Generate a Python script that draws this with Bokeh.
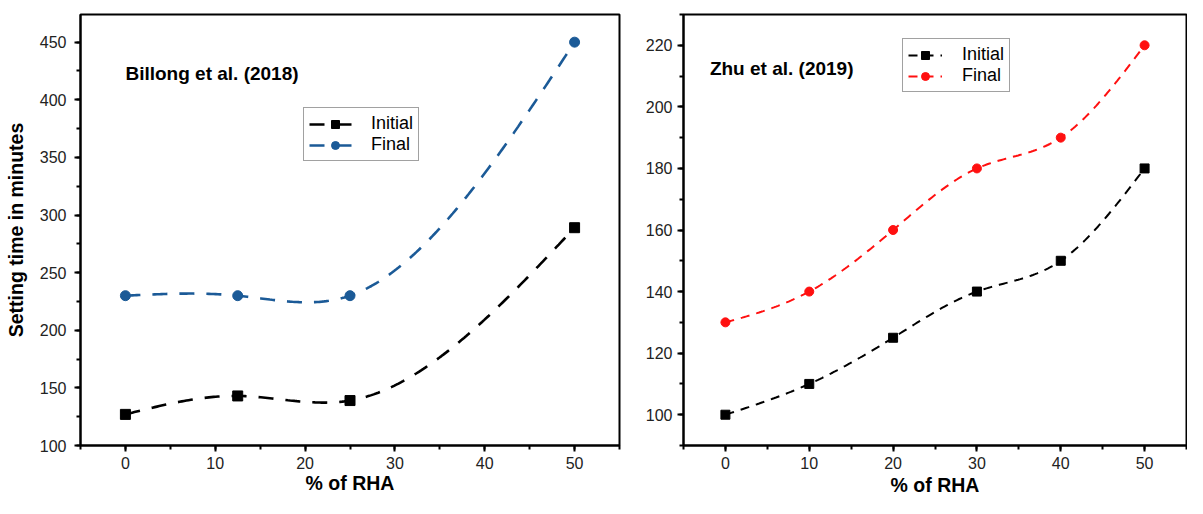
import numpy as np
from bokeh.plotting import figure
from bokeh.layouts import row
from bokeh.models import (Range1d, SingleIntervalTicker, Label, Legend, LegendItem)
from bokeh.embed import file_html
from bokeh.resources import INLINE

# ---- data: Billong et al. (2018)
rha_billong = [0, 12.5, 25, 50]
initial_billong = [127, 143, 139, 289]
final_billong = [230, 230, 230, 450]

# ---- data: Zhu et al. (2019)
rha_zhu = [0, 10, 20, 30, 40, 50]
initial_zhu = [100, 110, 125, 140, 150, 180]
final_zhu = [130, 140, 160, 180, 190, 220]

x_label = "% of RHA"
y_label = "Setting time in minutes"
FONT = "Liberation Sans"
BLUE = "#1b5a97"
RED = "#ff1010"


def spline(xs, ys, n=200):
    """Natural cubic spline through the data points (line connection)."""
    x = np.asarray(xs, float)
    y = np.asarray(ys, float)
    k = len(x)
    h = np.diff(x)
    A = np.zeros((k, k))
    b = np.zeros(k)
    A[0, 0] = A[-1, -1] = 1
    for i in range(1, k - 1):
        A[i, i - 1] = h[i - 1]
        A[i, i] = 2 * (h[i - 1] + h[i])
        A[i, i + 1] = h[i]
        b[i] = 6 * ((y[i + 1] - y[i]) / h[i] - (y[i] - y[i - 1]) / h[i - 1])
    M = np.linalg.solve(A, b)
    xx = np.linspace(x[0], x[-1], n)
    j = np.clip(np.searchsorted(x, xx) - 1, 0, k - 2)
    t0 = x[j + 1] - xx
    t1 = xx - x[j]
    hj = h[j]
    yy = (M[j] * t0 ** 3 / (6 * hj) + M[j + 1] * t1 ** 3 / (6 * hj)
          + (y[j] / hj - M[j] * hj / 6) * t0 + (y[j + 1] / hj - M[j + 1] * hj / 6) * t1)
    return xx, yy


def style(p, yint):
    p.outline_line_color = "black"
    p.outline_line_width = 2
    p.xgrid.visible = False
    p.ygrid.visible = False
    p.background_fill_color = "white"
    p.border_fill_color = "white"
    for ax, iv in ((p.xaxis[0], 10), (p.yaxis[0], yint)):
        ax.ticker = SingleIntervalTicker(interval=iv, num_minor_ticks=2)
        ax.axis_line_color = "black"
        ax.axis_line_width = 2
        ax.major_tick_line_width = 2
        ax.minor_tick_line_width = 2
        ax.major_tick_out = 6
        ax.major_tick_in = 0
        ax.minor_tick_out = 4
        ax.minor_tick_in = 0
        ax.major_label_text_font = FONT
        ax.major_label_text_font_size = "16px"
        ax.major_label_text_color = "#222222"
        ax.major_label_standoff = 5
        ax.axis_label_text_font = FONT
        ax.axis_label_text_font_size = "19.5px"
        ax.axis_label_text_font_style = "bold"
        ax.axis_label_text_color = "black"
    p.xaxis.axis_label_standoff = 0


def legend_for(p, items, loc, glyph_w, standoff):
    lg = Legend(items=items, location=loc, orientation="vertical",
                label_text_font=FONT, label_text_font_size="18px",
                label_text_color="black", glyph_width=glyph_w, glyph_height=20,
                label_standoff=standoff, padding=5, spacing=0, margin=0,
                border_line_color="#444444", border_line_width=1.5,
                background_fill_alpha=1)
    p.add_layout(lg)


# ---------------- left panel
p1 = figure(width=622, height=498, output_backend="svg", toolbar_location=None,
            x_range=Range1d(-5, 55), y_range=Range1d(100, 474),
            min_border_left=80, min_border_right=3, min_border_top=12, min_border_bottom=52)
style(p1, 50)
p1.xaxis.axis_label = x_label
p1.yaxis.axis_label = y_label
p1.yaxis.major_label_standoff = 8
p1.yaxis.axis_label_standoff = 10

sx, sy = spline(rha_billong, initial_billong)
l1 = p1.line(sx, sy, line_color="black", line_width=2.6, line_dash="15 12")
m1 = p1.scatter(rha_billong, initial_billong, marker="square", size=10,
                fill_color="black", line_color="black")
sx, sy = spline(rha_billong, final_billong)
l2 = p1.line(sx, sy, line_color=BLUE, line_width=2.6, line_dash="15 12")
m2 = p1.scatter(rha_billong, final_billong, marker="circle", size=10,
                fill_color=BLUE, line_color=BLUE)
p1.add_layout(Label(x=0, y=423, text="Billong et al. (2018)", text_font=FONT,
                    text_font_size="19px", text_font_style="bold",
                    text_baseline="middle", text_color="black"))
legend_for(p1, [LegendItem(label="Initial", renderers=[l1, m1]),
                LegendItem(label="Final", renderers=[l2, m2])],
           (223, 284), 52, 10)

# ---------------- right panel
p2 = figure(width=565, height=498, output_backend="svg", toolbar_location=None,
            x_range=Range1d(-5, 55), y_range=Range1d(90, 230),
            min_border_left=61, min_border_right=1, min_border_top=14, min_border_bottom=53)
style(p2, 20)
p2.xaxis.axis_label = x_label
p2.xaxis.axis_label_standoff = 2

sx, sy = spline(rha_zhu, initial_zhu)
l3 = p2.line(sx, sy, line_color="black", line_width=2, line_dash="9 7")
m3 = p2.scatter(rha_zhu, initial_zhu, marker="square", size=9,
                fill_color="black", line_color="black")
sx, sy = spline(rha_zhu, final_zhu)
l4 = p2.line(sx, sy, line_color=RED, line_width=2, line_dash="9 7")
m4 = p2.scatter(rha_zhu, final_zhu, marker="circle", size=9,
                fill_color=RED, line_color=RED)
p2.add_layout(Label(x=-1.85, y=212.3, text="Zhu et al. (2019)", text_font=FONT,
                    text_font_size="19px", text_font_style="bold",
                    text_baseline="middle", text_color="black"))
legend_for(p2, [LegendItem(label="Initial", renderers=[l3, m3]),
                LegendItem(label="Final", renderers=[l4, m4])],
           (219, 353), 34, 20)

layout = row(p1, p2)
open("out.html", "w").write(file_html(layout, INLINE))
